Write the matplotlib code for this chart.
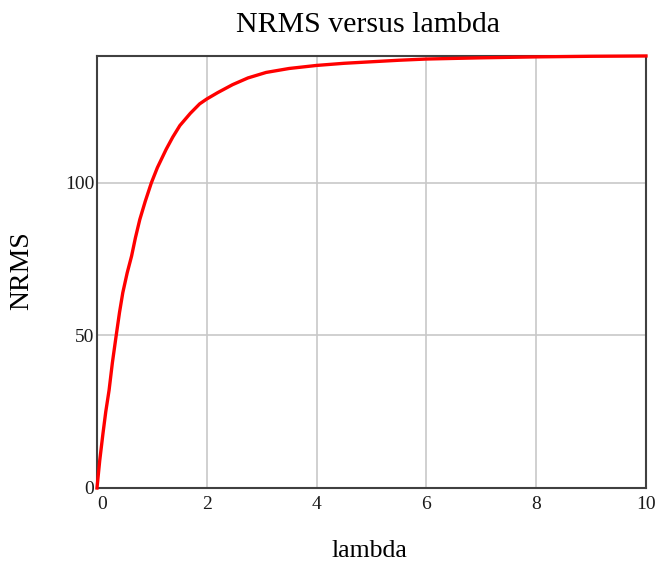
import matplotlib
matplotlib.use("Agg")
import matplotlib.pyplot as plt

# NRMS as a function of the regularisation parameter lambda
lam = [0, 0.05, 0.11, 0.16, 0.22, 0.28, 0.35, 0.41, 0.47, 0.55, 0.63, 0.70, 0.78, 0.88, 0.99,
       1.1, 1.26, 1.38, 1.51, 1.7, 1.87, 2.0, 2.2, 2.47, 2.75, 3.08, 3.5, 4.0, 4.5, 4.9,
       5.5, 6.0, 7.0, 8.0, 9.0, 10.0]
nrms = [0, 9, 18, 25, 32, 41, 50, 57.5, 64, 70.5, 76, 82, 88, 94, 100,
        105, 111, 115, 118.8, 122.8, 125.9, 127.5, 129.6, 132.2, 134.4, 136.2, 137.5, 138.5, 139.2, 139.6,
        140.2, 140.6, 141.0, 141.3, 141.5, 141.6]

x_ticks = [0, 2, 4, 6, 8, 10]
y_ticks = [0, 50, 100]

plt.rcParams["font.family"] = ["Liberation Serif", "DejaVu Serif"]

fig = plt.figure(figsize=(6.62, 5.70), dpi=100)
ax = fig.add_axes([0.1465, 0.1439, 0.8293, 0.7579])

ax.plot(lam, nrms, color="#ff0000", lw=2.4, zorder=3, clip_on=False,
        solid_joinstyle="round")

ax.set_xlim(0, 10)
ax.set_ylim(0, max(nrms))
ax.set_xticks(x_ticks)
ax.set_yticks(y_ticks)
ax.grid(True, color="#c8c8c8", lw=1.2)
ax.set_axisbelow(True)

for s in ax.spines.values():
    s.set_color("#404040")
    s.set_linewidth(1.5)

ax.tick_params(length=0, labelsize=14, colors="#1a1a1a")
ax.tick_params(axis="x", pad=6)
ax.tick_params(axis="y", pad=2)
for lbl in ax.get_xticklabels():
    lbl.set_horizontalalignment("left" if lbl.get_text() == "0" else "center")

# titles placed in figure coordinates
fig.text(0.556, 1 - 25 / 570, "NRMS versus lambda", fontsize=21.5, ha="center", va="center")
fig.text(0.558, 1 - 551 / 570, "lambda", fontsize=18.5, ha="center", va="center")
fig.text(22 / 662, 1 - 271 / 570, "NRMS", fontsize=20, rotation=90, ha="center", va="center")

fig.savefig("out.png", dpi=100)
